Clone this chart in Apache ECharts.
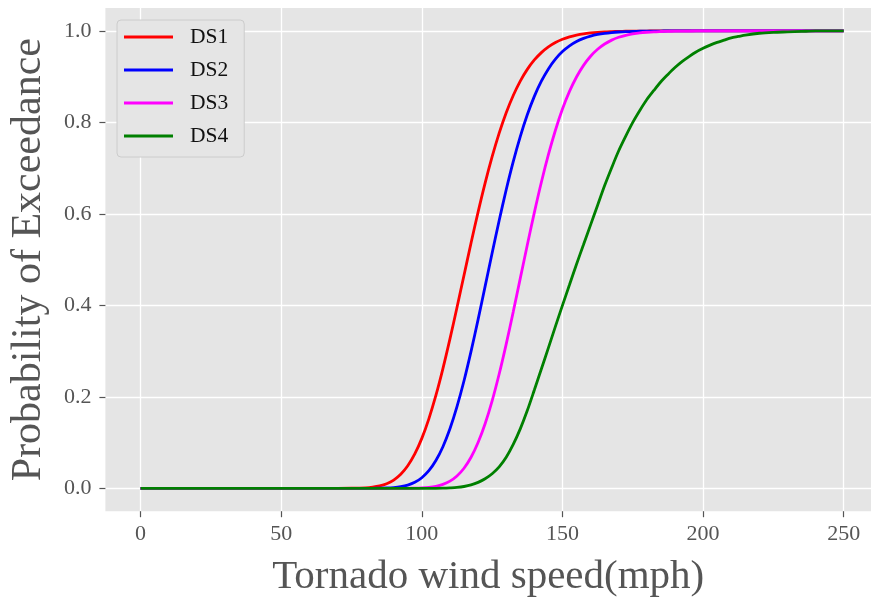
<!DOCTYPE html>
<html>
<head>
<meta charset="utf-8">
<script src="https://cdn.jsdelivr.net/npm/echarts@6/dist/echarts.min.js"></script>
<style>
  html, body { margin: 0; padding: 0; background: #fff; }
  #main { width: 871px; height: 601px; }
</style>
</head>
<body>
<div id="main"></div>
<script>
// wind speed (mph); denser through the rising part of the curves
var speeds = [0, 10, 20, 30, 40, 50, 60, 70, 75,
  80, 82.5, 85, 87.5, 90, 92.5, 95, 97.5,
  100, 102.5, 105, 107.5, 110, 112.5, 115, 117.5,
  120, 122.5, 125, 127.5, 130, 132.5, 135, 137.5,
  140, 142.5, 145, 147.5, 150, 152.5, 155, 157.5,
  160, 162.5, 165, 167.5, 170, 172.5, 175, 177.5,
  180, 182.5, 185, 187.5, 190, 192.5, 195, 197.5,
  200, 202.5, 205, 207.5, 210, 212.5, 215,
  220, 225, 230, 235, 240, 245, 250];

// probability of exceedance
var ds1 = [0, 0, 0, 0, 0, 0, 0, 0, 0.0002,
  0.0011, 0.0025, 0.0052, 0.0100, 0.0181, 0.0308, 0.0494, 0.0752,
  0.1092, 0.152, 0.203, 0.2618, 0.3267, 0.3955, 0.466, 0.5363,
  0.604, 0.6673, 0.725, 0.7766, 0.8212, 0.859, 0.8905, 0.916,
  0.9366, 0.9527, 0.9652, 0.9747, 0.9818, 0.9871, 0.9909, 0.9937,
  0.9956, 0.997, 0.998, 0.9986, 0.9991, 0.9994, 0.9996, 0.9997,
  0.9998, 1, 1, 1, 1, 1, 1, 1,
  1, 1, 1, 1, 1, 1, 1,
  1, 1, 1, 1, 1, 1, 1];
var ds2 = [0, 0, 0, 0, 0, 0, 0, 0, 0,
  0, 0.0001, 0.0003, 0.0007, 0.0016, 0.0035, 0.007, 0.0131,
  0.0232, 0.0385, 0.0607, 0.091, 0.1301, 0.1785, 0.2352, 0.2994,
  0.3689, 0.4415, 0.5145, 0.5857, 0.6528, 0.7143, 0.7691, 0.8167,
  0.857, 0.8902, 0.9171, 0.9384, 0.9549, 0.9674, 0.9768, 0.9837,
  0.9887, 0.9923, 0.9948, 0.9965, 0.9977, 0.9985, 0.999, 0.9994,
  0.9996, 0.9997, 0.9998, 1, 1, 1, 1, 1,
  1, 1, 1, 1, 1, 1, 1,
  1, 1, 1, 1, 1, 1, 1];
var ds3 = [0, 0, 0, 0, 0, 0, 0, 0, 0,
  0, 0, 0, 0, 0, 0, 0.0001, 0.0004,
  0.001, 0.0021, 0.0044, 0.0086, 0.0157, 0.027, 0.0439, 0.0679,
  0.1001, 0.1412, 0.1913, 0.2499, 0.3153, 0.3859, 0.459, 0.5319,
  0.6029, 0.6693, 0.7294, 0.7829, 0.8292, 0.8678, 0.8994, 0.9248,
  0.9448, 0.96, 0.9715, 0.98, 0.9862, 0.9906, 0.9936, 0.9958,
  0.9972, 0.9982, 0.9988, 0.9993, 0.9995, 0.9997, 0.9998, 1,
  1, 1, 1, 1, 1, 1, 1,
  1, 1, 1, 1, 1, 1, 1];
var ds4 = [0, 0, 0, 0, 0, 0, 0, 0, 0,
  0, 0, 0, 0, 0, 0, 0, 0,
  0, 0, 0, 0.0003, 0.001, 0.002, 0.004, 0.0075,
  0.013, 0.021, 0.032, 0.047, 0.068, 0.096, 0.13, 0.17,
  0.215, 0.261, 0.307, 0.354, 0.4, 0.445, 0.49, 0.533,
  0.576, 0.619, 0.662, 0.701, 0.738, 0.77, 0.8, 0.826,
  0.85, 0.87, 0.889, 0.905, 0.92, 0.933, 0.944, 0.954,
  0.962, 0.969, 0.975, 0.98, 0.985, 0.988, 0.991,
  0.995, 0.997, 0.998, 0.999, 1, 1, 1];

var names = ['DS1', 'DS2', 'DS3', 'DS4'];
var colors = ['#ff0000', '#0000ff', '#ff00ff', '#008000'];
var xTicks = [0, 50, 100, 150, 200, 250];
var yTicks = [0, 0.2, 0.4, 0.6, 0.8, 1.0];

function pairs(ys) {
  var out = [];
  for (var i = 0; i < speeds.length; i++) out.push([speeds[i], ys[i]]);
  return out;
}

var serif = 'Liberation Serif';
var grey = '#555555';

var opt = {
  animation: false,
  grid: {
    left: 105.4, right: 0, top: 8.1, bottom: 89.8,
    outerBoundsMode: 'none',
    show: true, backgroundColor: '#e5e5e5', borderWidth: 0
  },
  legend: {
    data: names,
    orient: 'vertical',
    left: 117, top: 20,
    icon: 'rect',
    itemWidth: 49, itemHeight: 3, itemGap: 11,
    padding: [6, 16, 10, 7],
    backgroundColor: '#e5e5e5',
    borderColor: '#cccccc', borderWidth: 1, borderRadius: 4,
    textStyle: { fontFamily: serif, fontSize: 21.5, color: '#111', lineHeight: 20, padding: [0, 0, 0, 12] }
  },
  xAxis: {
    type: 'value', min: -12.5, max: 259.7,
    name: 'Tornado wind speed(mph)', nameLocation: 'middle', nameGap: 46,
    nameTextStyle: { fontFamily: serif, fontSize: 41, color: grey },
    axisLine: { show: false, onZero: false },
    axisTick: { show: true, customValues: xTicks, length: 6, lineStyle: { color: grey, width: 1.2 } },
    axisLabel: { customValues: xTicks, fontFamily: serif, fontSize: 22, color: grey, margin: 12 },
    splitLine: { show: true, lineStyle: { color: '#ffffff', width: 1.3 } }
  },
  yAxis: {
    type: 'value', min: -0.05, max: 1.05,
    name: 'Probability of Exceedance', nameLocation: 'middle', nameGap: 55,
    nameTextStyle: { fontFamily: serif, fontSize: 42, color: grey },
    axisLine: { show: false, onZero: false },
    axisTick: { show: true, customValues: yTicks, length: 6, lineStyle: { color: grey, width: 1.2 } },
    axisLabel: {
      customValues: yTicks, fontFamily: serif, fontSize: 22, color: grey, margin: 14,
      formatter: function (v) { return v.toFixed(1); }
    },
    splitLine: { show: true, lineStyle: { color: '#ffffff', width: 1.3 } }
  },
  series: []
};

for (var k = 0; k < names.length; k++) {
  opt.series.push({
    name: names[k],
    type: 'line',
    data: pairs([ds1, ds2, ds3, ds4][k]),
    smooth: 0.3,
    showSymbol: false,
    color: colors[k],
    lineStyle: { width: 2.8, color: colors[k] }
  });
}

var chart = echarts.init(document.getElementById('main'));
chart.setOption(opt);
</script>
</body>
</html>
